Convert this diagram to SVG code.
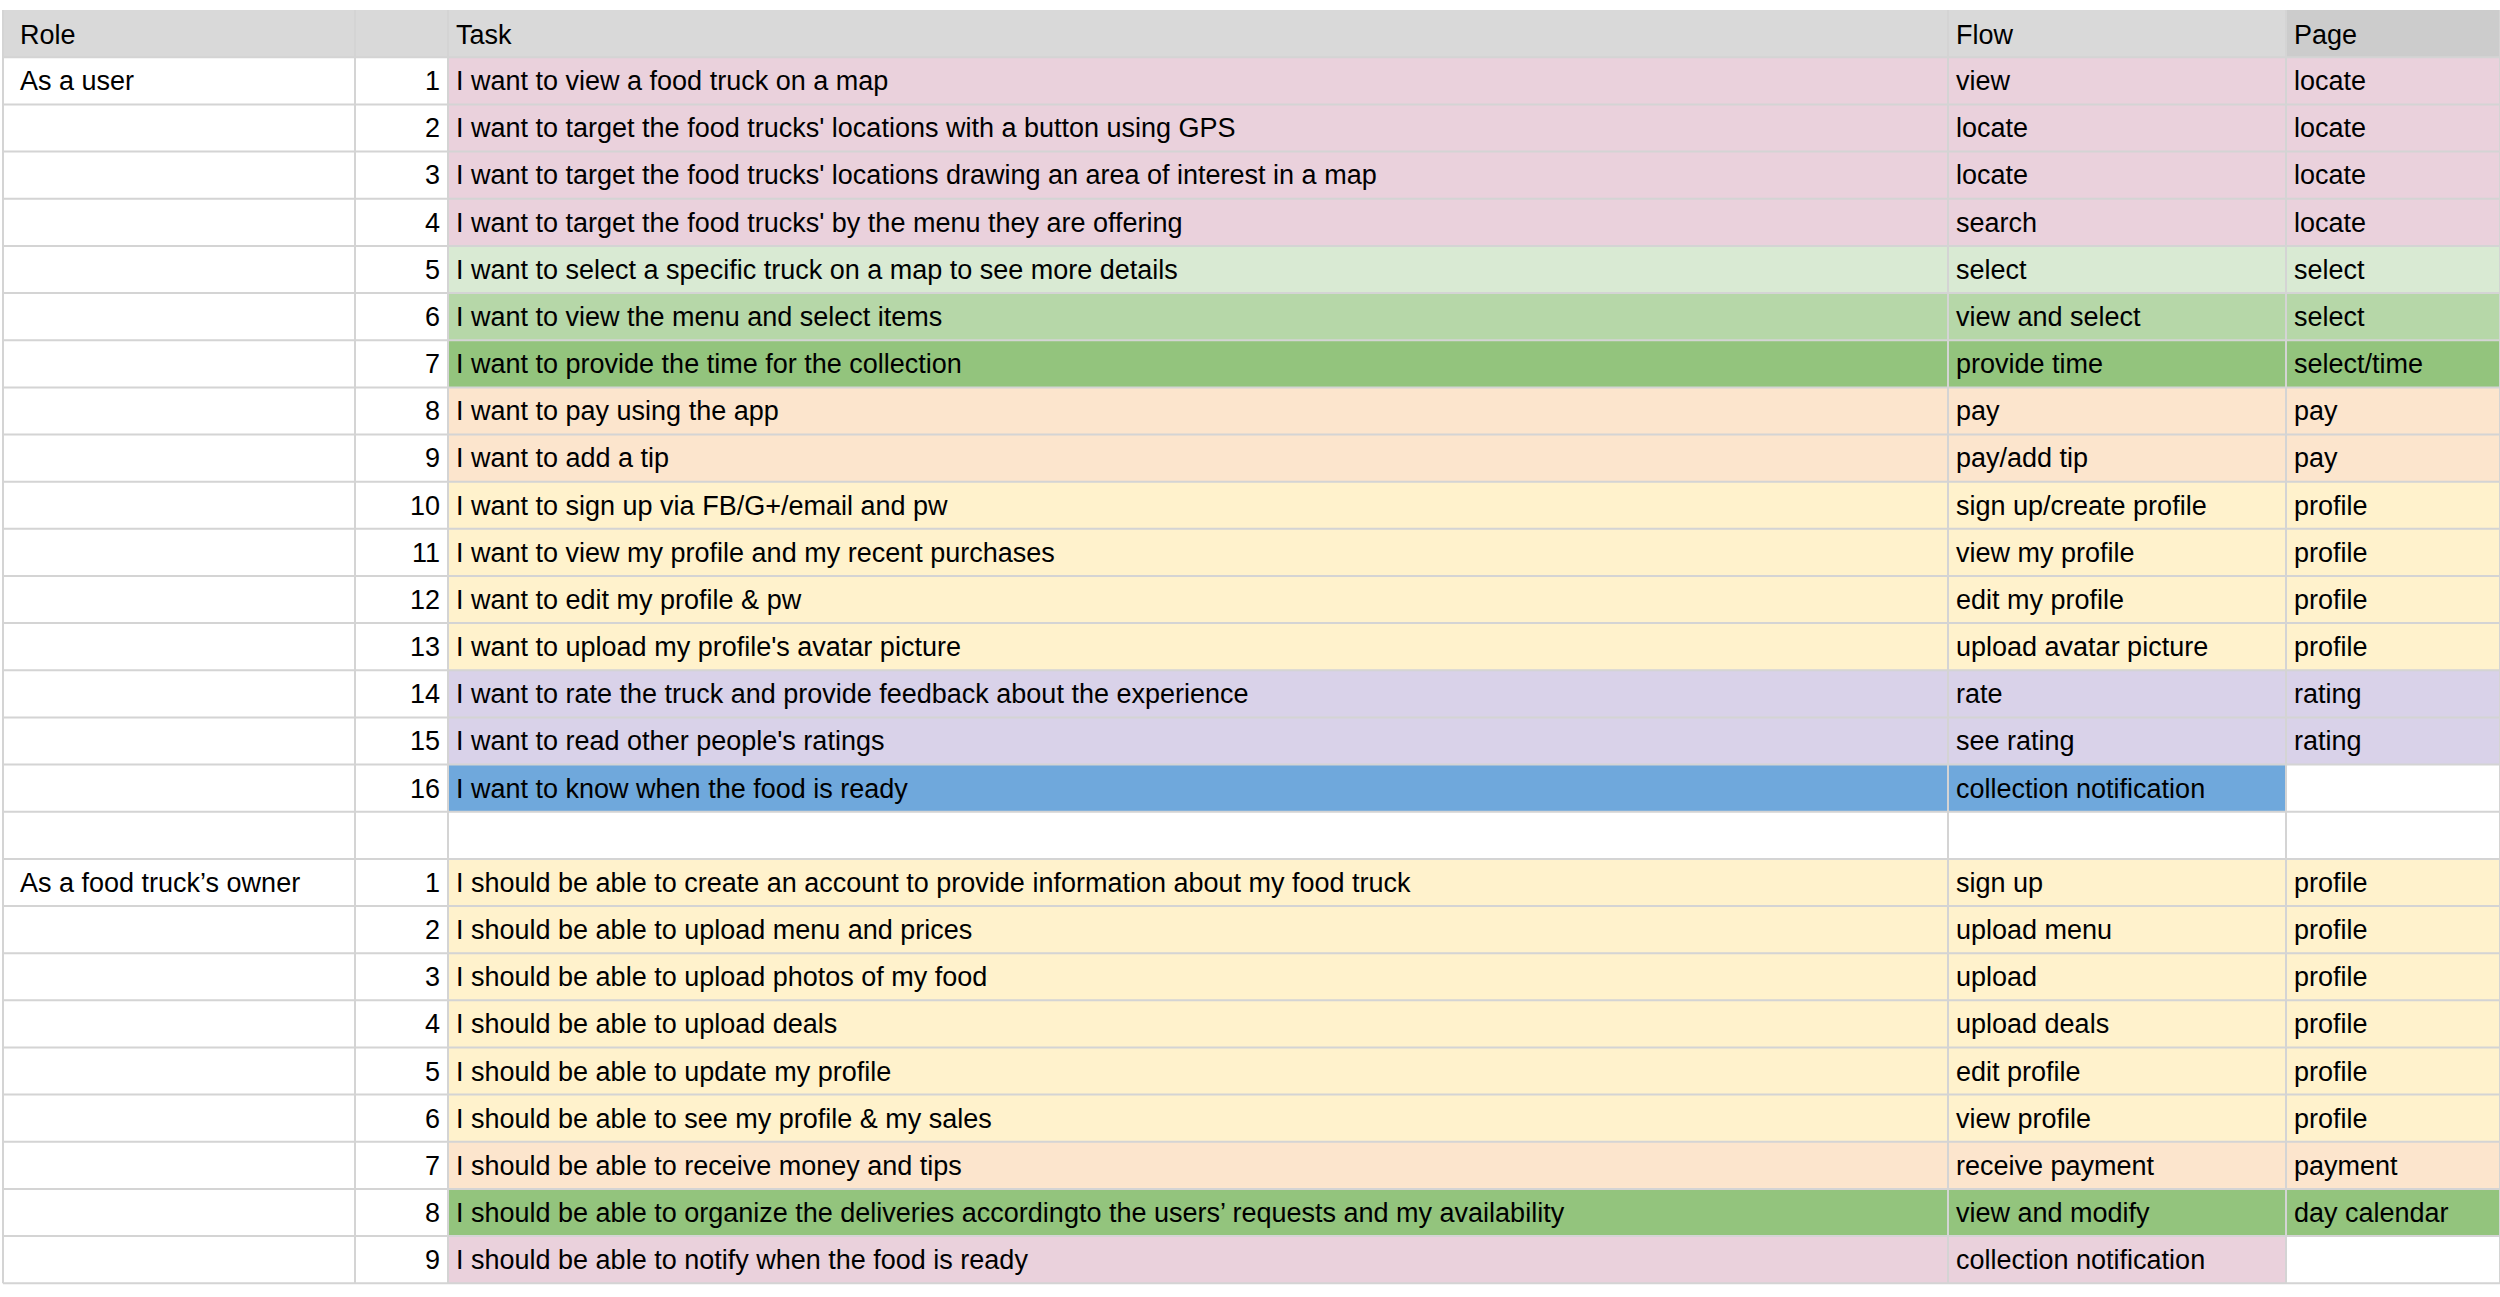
<svg xmlns="http://www.w3.org/2000/svg" width="2500" height="1297" viewBox="0 0 2500 1297">
<style>
text{font-family:"Liberation Sans",Arial,sans-serif;font-size:27px;fill:#000}
.n{text-anchor:end}
.pk{fill:#ead1dc}.lg{fill:#d9ead3}.mg{fill:#b6d7a8}.dg{fill:#93c47d}.pe{fill:#fce5cd}.ye{fill:#fff2cc}.la{fill:#d9d2e9}.bl{fill:#6fa8dc}
.g{stroke:#d4d4d4;stroke-width:2;fill:none}
</style>
<rect width="2500" height="1297" fill="#fff"/>
<g id="header">
<rect x="3" y="10" width="2283" height="47" fill="#d9d9d9"/>
<rect x="2286" y="10" width="214" height="47" fill="#cccccc"/>
<text x="20" y="44">Role</text><text x="456" y="44">Task</text><text x="1956" y="44">Flow</text><text x="2294" y="44">Page</text>
</g>
<g id="fills">
<rect class="pk" x="448" y="57.3" width="2052" height="188.6"/>
<rect class="lg" x="448" y="245.9" width="2052" height="47.2"/>
<rect class="mg" x="448" y="293.1" width="2052" height="47.1"/>
<rect class="dg" x="448" y="340.2" width="2052" height="47.2"/>
<rect class="pe" x="448" y="387.4" width="2052" height="94.3"/>
<rect class="ye" x="448" y="481.7" width="2052" height="188.6"/>
<rect class="la" x="448" y="670.3" width="2052" height="94.3"/>
<rect class="bl" x="448" y="764.6" width="1838" height="47.1"/>
<rect class="ye" x="448" y="858.9" width="2052" height="282.9"/>
<rect class="pe" x="448" y="1141.8" width="2052" height="47.1"/>
<rect class="dg" x="448" y="1188.9" width="2052" height="47.2"/>
<rect class="pk" x="448" y="1236.1" width="1838" height="47.1"/>
</g>
<g id="grid" class="g">
<path d="M3 10V1283.2M355 10V1283.2M448 10V1283.2M1948 10V1283.2M2286 10V1283.2M2500 10V1283.2"/>
<path d="M3 57.3H2500M3 104.5H2500M3 151.6H2500M3 198.8H2500M3 245.9H2500M3 293.1H2500M3 340.2H2500M3 387.4H2500M3 434.5H2500M3 481.7H2500M3 528.8H2500M3 576H2500M3 623.1H2500M3 670.3H2500M3 717.4H2500M3 764.6H2500M3 811.7H2500M3 858.9H2500M3 906H2500M3 953.2H2500M3 1000.3H2500M3 1047.5H2500M3 1094.6H2500M3 1141.8H2500M3 1188.9H2500M3 1236.1H2500M3 1283.2H2500"/>
</g>
<g id="user-rows">
<text x="20" y="90">As a user</text>
<text class="n" x="440" y="90">1</text><text x="456" y="90">I want to view a food truck on a map</text><text x="1956" y="90">view</text><text x="2294" y="90">locate</text>
<text class="n" x="440" y="137">2</text><text x="456" y="137">I want to target the food trucks' locations with a button using GPS</text><text x="1956" y="137">locate</text><text x="2294" y="137">locate</text>
<text class="n" x="440" y="184">3</text><text x="456" y="184">I want to target the food trucks' locations drawing an area of interest in a map</text><text x="1956" y="184">locate</text><text x="2294" y="184">locate</text>
<text class="n" x="440" y="232">4</text><text x="456" y="232">I want to target the food trucks' by the menu they are offering</text><text x="1956" y="232">search</text><text x="2294" y="232">locate</text>
<text class="n" x="440" y="279">5</text><text x="456" y="279">I want to select a specific truck on a map to see more details</text><text x="1956" y="279">select</text><text x="2294" y="279">select</text>
<text class="n" x="440" y="326">6</text><text x="456" y="326">I want to view the menu and select items</text><text x="1956" y="326">view and select</text><text x="2294" y="326">select</text>
<text class="n" x="440" y="373">7</text><text x="456" y="373">I want to provide the time for the collection</text><text x="1956" y="373">provide time</text><text x="2294" y="373">select/time</text>
<text class="n" x="440" y="420">8</text><text x="456" y="420">I want to pay using the app</text><text x="1956" y="420">pay</text><text x="2294" y="420">pay</text>
<text class="n" x="440" y="467">9</text><text x="456" y="467">I want to add a tip</text><text x="1956" y="467">pay/add tip</text><text x="2294" y="467">pay</text>
<text class="n" x="440" y="515">10</text><text x="456" y="515">I want to sign up via FB/G+/email and pw</text><text x="1956" y="515">sign up/create profile</text><text x="2294" y="515">profile</text>
<text class="n" x="440" y="562">11</text><text x="456" y="562">I want to view my profile and my recent purchases</text><text x="1956" y="562">view my profile</text><text x="2294" y="562">profile</text>
<text class="n" x="440" y="609">12</text><text x="456" y="609">I want to edit my profile &amp; pw</text><text x="1956" y="609">edit my profile</text><text x="2294" y="609">profile</text>
<text class="n" x="440" y="656">13</text><text x="456" y="656">I want to upload my profile's avatar picture</text><text x="1956" y="656">upload avatar picture</text><text x="2294" y="656">profile</text>
<text class="n" x="440" y="703">14</text><text x="456" y="703">I want to rate the truck and provide feedback about the experience</text><text x="1956" y="703">rate</text><text x="2294" y="703">rating</text>
<text class="n" x="440" y="750">15</text><text x="456" y="750">I want to read other people's ratings</text><text x="1956" y="750">see rating</text><text x="2294" y="750">rating</text>
<text class="n" x="440" y="798">16</text><text x="456" y="798">I want to know when the food is ready</text><text x="1956" y="798">collection notification</text>
</g>
<g id="owner-rows">
<text x="20" y="892">As a food truck’s owner</text>
<text class="n" x="440" y="892">1</text><text x="456" y="892">I should be able to create an account to provide information about my food truck</text><text x="1956" y="892">sign up</text><text x="2294" y="892">profile</text>
<text class="n" x="440" y="939">2</text><text x="456" y="939">I should be able to upload menu and prices</text><text x="1956" y="939">upload menu</text><text x="2294" y="939">profile</text>
<text class="n" x="440" y="986">3</text><text x="456" y="986">I should be able to upload photos of my food</text><text x="1956" y="986">upload</text><text x="2294" y="986">profile</text>
<text class="n" x="440" y="1033">4</text><text x="456" y="1033">I should be able to upload deals</text><text x="1956" y="1033">upload deals</text><text x="2294" y="1033">profile</text>
<text class="n" x="440" y="1081">5</text><text x="456" y="1081">I should be able to update my profile</text><text x="1956" y="1081">edit profile</text><text x="2294" y="1081">profile</text>
<text class="n" x="440" y="1128">6</text><text x="456" y="1128">I should be able to see my profile &amp; my sales</text><text x="1956" y="1128">view profile</text><text x="2294" y="1128">profile</text>
<text class="n" x="440" y="1175">7</text><text x="456" y="1175">I should be able to receive money and tips</text><text x="1956" y="1175">receive payment</text><text x="2294" y="1175">payment</text>
<text class="n" x="440" y="1222">8</text><text x="456" y="1222">I should be able to organize the deliveries accordingto the users’ requests and my availability</text><text x="1956" y="1222">view and modify</text><text x="2294" y="1222">day calendar</text>
<text class="n" x="440" y="1269">9</text><text x="456" y="1269">I should be able to notify when the food is ready</text><text x="1956" y="1269">collection notification</text>
</g>
</svg>
